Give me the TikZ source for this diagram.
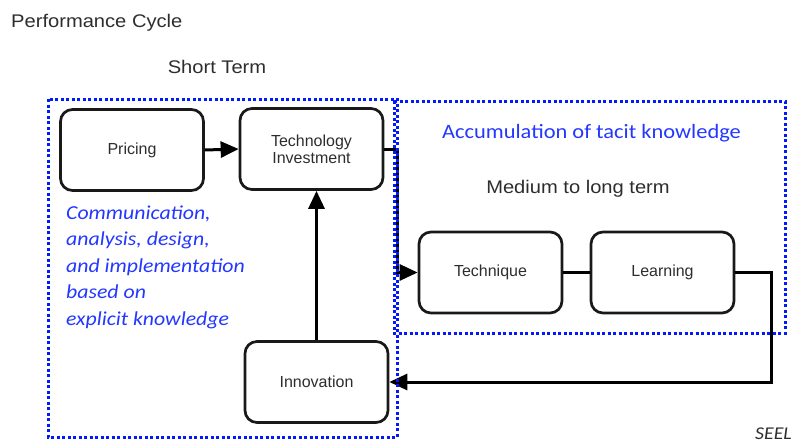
\documentclass[tikz,border=0pt]{standalone}
\usepackage{fontspec}
\setmainfont{Liberation Sans}
\newfontfamily\arialx{Liberation Sans}[FakeStretch=1.1]
\newfontfamily\calx{Carlito}[FakeStretch=1.1]
\usetikzlibrary{arrows.meta}
\definecolor{tblue}{RGB}{35,55,255}
\definecolor{dblue}{RGB}{0,25,255}
\definecolor{txt}{RGB}{45,45,45}
\begin{document}
\begin{tikzpicture}[x=1pt,y=-1pt,
  box/.style={draw=black!90, line width=2.7pt, rounded corners=12pt, minimum width=143pt, minimum height=81pt, inner sep=0pt, font=\fontsize{16}{17}\selectfont, text=txt, align=center},
  arr/.style={line width=3pt, -{Triangle[length=18pt,width=16pt]}},
  ln/.style={line width=3pt},
  dotbox/.style={draw=dblue, line width=3pt, dash pattern=on 3pt off 2.5pt},
  lbl/.style={font=\arialx\fontsize{18.3}{22}\selectfont, text=txt, inner sep=0pt},
  blu/.style={font=\calx\itshape\fontsize{19.8}{26.5}\selectfont, text=tblue, inner sep=0pt, anchor=base west}]
\useasboundingbox (0,0) rectangle (800,444);

% titles
\node[lbl, anchor=base west] (title) at (11,28) {Performance Cycle};
\node[lbl, anchor=base] (short) at (217,74) {Short Term};
\node[lbl, anchor=base] (medium) at (578,193) {Medium to long term};
\node[font=\calx\fontsize{20.4}{24}\selectfont, text=tblue, anchor=base, inner sep=0pt] (accum) at (591.5,138) {Accumulation of tacit knowledge};

% blue italic text
\node[blu] (b1) at (66,219.3) {Communication,};
\node[blu] (b2) at (66,245.8) {analysis, design,};
\node[blu] (b3) at (66,272.3) {and implementation};
\node[blu] (b4) at (66,298.8) {based on};
\node[blu] (b5) at (66,325.3) {explicit knowledge};

% boxes
\node[box] (pricing) at (132,150) {Pricing};
\node[box] (tech) at (311.5,149) {Technology\\Investment};
\node[box] (technique) at (490.5,272.5) {Technique};
\node[box] (learning) at (662.5,272.5) {Learning};
\node[box] (innov) at (316.5,382) {Innovation};

% connectors
\draw[arr] (pricing.east) -- (tech.west);
\draw[arr] (tech.east) -- ++(13,0) |- (technique.west);
\draw[ln] (technique.east) -- (learning.west);
\draw[arr] (learning.east) -- ++(36,0) |- (innov.east);
\draw[arr] (innov.north) -- (innov.north |- tech.south);

% dotted regions
\draw[dotbox] (48,99) rectangle (397,437);
\draw[dotbox] (394,101) rectangle (785,333);

\node[font=\calx\itshape\fontsize{18}{22}\selectfont, text=txt, anchor=base west, inner sep=0pt] (seel) at (755,439) {SEEL};
\end{tikzpicture}
\end{document}
